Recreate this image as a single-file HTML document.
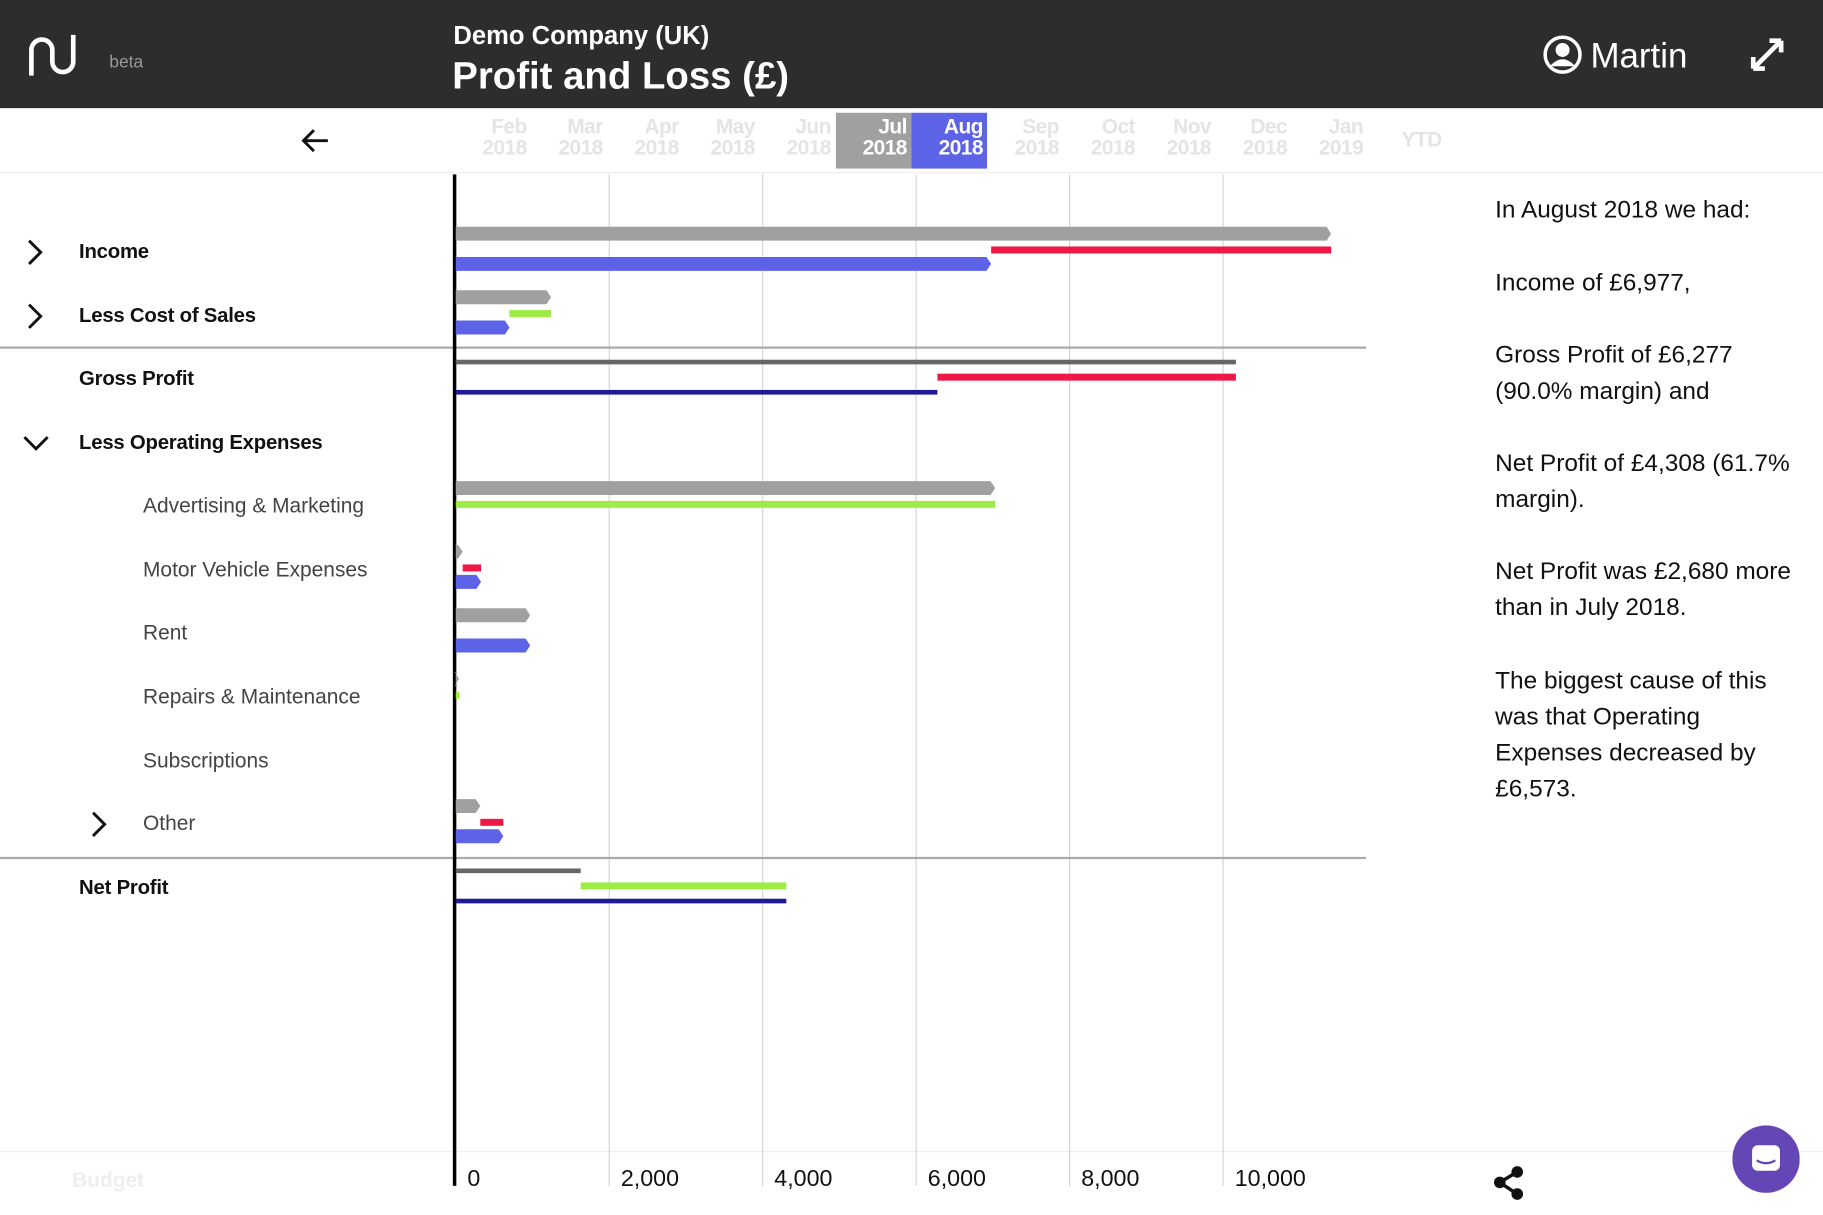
<!DOCTYPE html>
<html><head><meta charset="utf-8">
<style>
html,body{margin:0;padding:0;background:#fff;overflow:hidden;}
body{width:1823px;height:1215px;}
#wrap{position:absolute;left:0;top:0;width:1568px;height:1045px;transform:scale(1.16263);transform-origin:0 0;font-family:"Liberation Sans",sans-serif;}
.abs{position:absolute;}
.hdr{left:0;top:0;width:1568px;height:93px;background:#2d2d2d;color:#fff;}
.lbl{position:absolute;font-size:17.5px;color:#111;line-height:22px;letter-spacing:-0.2px;}
.sub{font-size:18px;color:#444;letter-spacing:0;}
.mon{position:absolute;top:100px;width:60px;text-align:right;font-size:18px;font-weight:bold;line-height:18px;color:#e4e4e4;letter-spacing:-0.5px;}
.rt{position:absolute;left:1286px;font-size:21px;line-height:31px;color:#111;width:268px;}
</style></head><body>
<div id="wrap">
<div class="abs hdr">
  <svg class="abs" style="left:24px;top:27px" width="46" height="40"><path d="M3 38 V16 a9 9 0 0 1 18 0 V26 a9 9 0 0 0 18 0 V3" fill="none" stroke="#fff" stroke-width="4"/></svg>
  <div class="abs" style="left:94px;top:45px;font-size:15px;color:#999">beta</div>
  <div class="abs" style="left:390px;top:18px;font-size:22px;font-weight:bold">Demo Company (UK)</div>
  <div class="abs" style="left:389px;top:46px;font-size:33px;font-weight:bold">Profit and Loss (£)</div>
  <svg class="abs" style="left:1327px;top:30px" width="34" height="34"><circle cx="17" cy="17" r="15" fill="none" stroke="#fff" stroke-width="3"/><circle cx="17" cy="13" r="6" fill="#fff"/><path d="M6 27 q11 -12 22 0" fill="#fff"/></svg>
  <div class="abs" style="left:1368px;top:32px;font-size:30px">Martin</div>
  <svg class="abs" style="left:1505px;top:32px" width="30" height="30"><path d="M3 27 L27 3 M3 27 v-10 M3 27 h10 M27 3 v10 M27 3 h-10" stroke="#fff" stroke-width="4" fill="none"/></svg>
</div>
<svg class="abs" style="left:258px;top:109px" width="26" height="24"><path d="M24 12 H3 M12 3 L3 12 L12 21" stroke="#111" stroke-width="2.5" fill="none"/></svg>
<div class="abs" style="left:719px;top:97px;width:65px;height:48px;background:#a0a0a0"></div>
<div class="abs" style="left:784px;top:97px;width:65px;height:48px;background:#5c63e6"></div>
<div id="months"></div>
<div class="abs" style="left:0;top:148px;width:1568px;height:1px;background:#eee"></div>
<div class="abs" style="left:0;top:990px;width:1568px;height:1px;background:#f0f0f0"></div>
<div id="labels"></div>
<svg id="chart" class="abs" style="left:0;top:0" width="1568" height="1045"></svg>
<div class="rt" style="top:165px">In August 2018 we had:</div>
<div class="rt" style="top:228px">Income of £6,977,</div>
<div class="rt" style="top:290px">Gross Profit of £6,277 (90.0% margin) and</div>
<div class="rt" style="top:383px">Net Profit of £4,308 (61.7% margin).</div>
<div class="rt" style="top:476px">Net Profit was £2,680 more than in July 2018.</div>
<div class="rt" style="top:570px">The biggest cause of this was that Operating Expenses decreased by £6,573.</div>
<div class="abs" style="left:62px;top:1005px;font-size:18px;font-weight:bold;color:#eee">Budget</div>
<svg class="abs" style="left:1283px;top:1003px" width="30" height="30"><circle cx="22" cy="5" r="5" fill="#111"/><circle cx="7" cy="14" r="5" fill="#111"/><circle cx="22" cy="24" r="5" fill="#111"/><path d="M22 5 L7 14 L22 24" stroke="#111" stroke-width="3" fill="none"/></svg>
<svg class="abs" style="left:1490px;top:968px" width="58" height="58"><circle cx="29" cy="29" r="29" fill="#6446b5"/><rect x="17" y="17" width="24" height="22" rx="5" fill="#fff"/><path d="M21 30 q8 5 16 0" stroke="#6446b5" stroke-width="2" fill="none"/></svg>
</div>
<script>
const months=["Feb","Mar","Apr","May","Jun","Jul","Aug","Sep","Oct","Nov","Dec","Jan"];
const years=["2018","2018","2018","2018","2018","2018","2018","2018","2018","2018","2018","2019"];
const rows=["Income","Less Cost of Sales","Gross Profit","Less Operating Expenses","Advertising & Marketing","Motor Vehicle Expenses","Rent","Repairs & Maintenance","Subscriptions","Other","Net Profit"];
const julValues=[11409,1242,10167,null,7030,90,970,45,0,320,1628];
const augValues=[6977,700,6277,null,0,330,970,0,0,620,4308];
const rowKind=["income","cost","total","header","cost","cost","cost","cost","cost","cost","total"];
const xTicks=[0,2000,4000,6000,8000,10000];
const xTickLabels=["0","2,000","4,000","6,000","8,000","10,000"];
const NS="http://www.w3.org/2000/svg";
const svg=document.getElementById('chart');
const X0=392,PX=0.066;
function xs(v){return X0+v*PX;}
function rowY(i){return 216+i*54.7;}
function mk(t,a){const e=document.createElementNS(NS,t);for(const k in a)e.setAttribute(k,a[k]);svg.appendChild(e);return e;}
const mc=document.getElementById('months');
months.forEach((m,i)=>{const d=document.createElement('div');d.className='mon';


d.style.left=(393+i*65.4)+'px';
if(i===5||i===6)d.style.color='#fff';
d.innerHTML=m+'<br>'+years[i];mc.appendChild(d);});
const ytd=document.createElement('div');ytd.className='mon';ytd.style.left='1180px';ytd.style.top='111px';ytd.textContent='YTD';


mc.appendChild(ytd);
xTicks.forEach((t,i)=>{
 if(i>0){const l=mk('line',{x1:xs(t),x2:xs(t),y1:150,y2:1020,stroke:'#d4d4d4','stroke-width':1});
 
 }
 const tx=mk('text',{x:xs(t)+10,y:1020,'font-size':20,fill:'#111','font-family':'Liberation Sans, sans-serif'});
 tx.textContent=xTickLabels[i];
 
 
});
[299,738].forEach(y=>{const l=mk('line',{x1:0,x2:1175,y1:y,y2:y,stroke:'#aaa','stroke-width':2});

});
const ax=mk('line',{x1:391,x2:391,y1:150,y2:1020,stroke:'#000','stroke-width':3});


function arrowBar(v,y,h,fill,name){
 if(v<=0)return;const x1=xs(v);
 const p=mk('path',{d:`M${X0} ${y} H${x1-4} L${x1} ${y+h/2} L${x1-4} ${y+h} H${X0} Z`,fill:fill});
 
 
}
function rect(a,b,y,h,fill,name){const r=mk('rect',{x:Math.min(xs(a),xs(b)),y:y,width:Math.abs(xs(b)-xs(a)),height:h,fill:fill});
 
 }
const lc=document.getElementById('labels');
rows.forEach((r,i)=>{
 const y=rowY(i);const k=rowKind[i];
 const sub=(i>=4&&i<=9);
 const d=document.createElement('div');d.className='lbl'+(sub?' sub':'');
 d.style.left=(sub?123:68)+'px';d.style.top=(y-11)+'px';
 if(!sub)d.style.fontWeight='bold';
 d.textContent=r;
 
 
 lc.appendChild(d);
 const chev=(i===0||i===1)?[22,0]:(i===9?[77,0]:(i===3?[20,1]:null));
 if(chev){const s=document.createElement('div');s.className='abs';s.style.left=chev[0]+'px';s.style.top=(y-11)+'px';
  s.innerHTML=chev[1]?'<svg width="22" height="24"><path d="M1 7 L11 17 L21 7" stroke="#111" stroke-width="2.5" fill="none"/></svg>':'<svg width="16" height="24"><path d="M3 2 L13 12 L3 22" stroke="#111" stroke-width="2.5" fill="none"/></svg>';
  
  
  lc.appendChild(s);}
 const j=julValues[i],a=augValues[i];
 if(j===null)return;
 const sign=(k==='cost')?-1:1;
 const col=((a-j)*sign>0)?'#9eeb47':'#ee1846';
 if(k==='total'){
  if(j>0)rect(0,j,y-16,4,'#666','jul-total-bar');
  if(a!==j)rect(j,a,y-4,6,col,'change-bar');
  if(a>0)rect(0,a,y+10,4,'#1f1a99','aug-total-bar');
 }else{
  arrowBar(j,y-21,12,'#a0a0a0','jul-bar');
  if(a!==j)rect(j,a,y-4,6,col,'change-bar');
  arrowBar(a,y+5,12,'#5c63e6','aug-bar');
 }
});
</script>
</body></html>
